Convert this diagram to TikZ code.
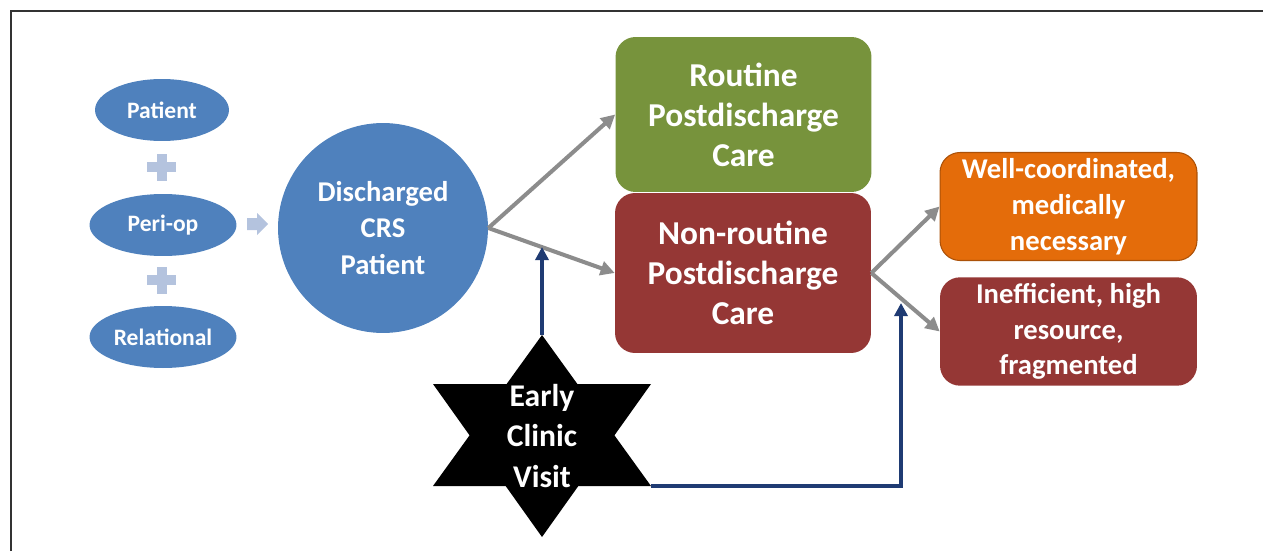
\documentclass[tikz,border=0pt]{standalone}
\usepackage{fontspec}
\setmainfont{Carlito}
\usetikzlibrary{shapes.geometric,arrows.meta}
\definecolor{crsblue}{HTML}{4F81BD}
\definecolor{plusblue}{HTML}{B4C3DE}
\definecolor{routgreen}{HTML}{77933C}
\definecolor{nonrred}{HTML}{953735}
\definecolor{wellorange}{HTML}{E46C0A}
\definecolor{navyline}{HTML}{1F3B73}
\definecolor{greyline}{HTML}{8C8C8C}

\begin{document}
\begin{tikzpicture}[x=0.02cm, y=-0.02cm,
		factor/.style={ellipse, fill=crsblue, text=white, minimum width=2.94cm, minimum height=1.24cm, inner sep=0pt, font=\fontsize{13.4}{16}\selectfont\bfseries},
		carebox/.style={rounded corners=0.4cm, text=white, align=center, minimum width=5.12cm, font=\fontsize{19}{22.8}\selectfont\bfseries},
		outbox/.style={rounded corners=0.4cm, text=white, align=center, minimum width=5.14cm, minimum height=2.14cm, font=\fontsize{16.3}{20.4}\selectfont\bfseries},
		flow/.style={greyline, line width=2.3pt, -{Triangle[length=8pt,width=8pt]}},
		visit/.style={navyline, line width=2.2pt, -{Triangle[length=7.5pt,width=7.5pt]}}]
		\useasboundingbox (0,0) rectangle (1263,551);
		\draw[line width=1.1pt, black!80] (11,551) -- (11,11) -- (1263,11);

		\node[factor, minimum width=2.68cm] (patient) at (162,110) {Patient};
		\node[factor] (periop) at (163,225) {Peri-op};
		\node[factor] (relational) at (163,337) {Relational};

		\foreach \y in {167,280} {
			\fill[plusblue] (147,\y-5) rectangle (176,\y+5);
			\fill[plusblue] (156.5,\y-13.5) rectangle (166.5,\y+13.5);
		}
		\fill[plusblue] (247,218) -- (257,218) -- (257,213) -- (268,224) -- (257,235) -- (257,230) -- (247,230) -- cycle;

		\node[circle, fill=crsblue, minimum size=4.2cm, text=white, align=center, font=\fontsize{16.3}{20.7}\selectfont\bfseries] (disc) at (383,228) {Discharged\\CRS\\Patient};

		\node[carebox, fill=routgreen, minimum height=3.1cm] (routine) at (743.5,114.5) {Routine\\Postdischarge\\Care};
		\node[carebox, fill=nonrred, minimum height=3.2cm] (nonroutine) at (743,273) {Non-routine\\Postdischarge\\Care};

		\node[outbox, fill=wellorange, draw=wellorange!75!black, line width=0.6pt] (well) at (1068.5,206.5) {Well-coordinated,\\medically\\necessary};
		\node[outbox, fill=nonrred] (ineff) at (1068.5,331.5) {Inefficient, high\\resource,\\fragmented};

		\draw[flow] (disc.east) -- (routine.west);
		\draw[flow] (disc.east) -- (nonroutine.west);
		\draw[flow] (nonroutine.east) -- (well.west);
		\draw[flow] (nonroutine.east) -- (ineff.west);

		\coordinate (startop) at (542,335);
		\coordinate (starright) at (651,486);
		\fill[black] (startop) -- (433,486) -- (starright) -- cycle;
		\fill[black] (542,537) -- (433,384) -- (651,384) -- cycle;
		\node[text=white, align=center, font=\fontsize{18}{23}\selectfont\bfseries] (ecv) at (542,436) {Early\\Clinic\\Visit};

		\coordinate (visittip) at (542,247);
		\coordinate (nonrtip) at (901,303);
		\draw[visit] (startop) -- (visittip);
		\draw[visit] (starright) -| (nonrtip);
	\end{tikzpicture}
\end{document}
